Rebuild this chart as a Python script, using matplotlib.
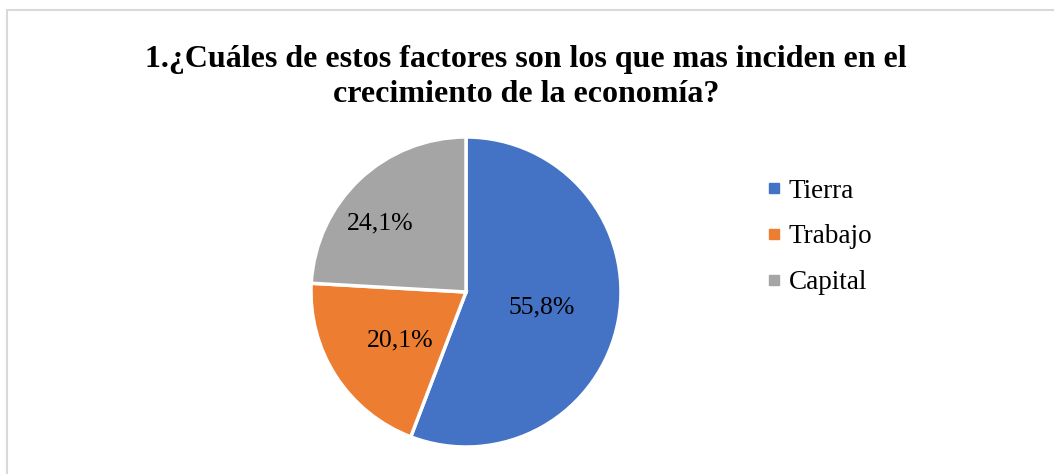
import matplotlib
matplotlib.use("Agg")
import matplotlib.pyplot as plt
from matplotlib.patches import Rectangle
from matplotlib.lines import Line2D

categories = ["Tierra", "Trabajo", "Capital"]
values = [55.8, 20.1, 24.1]
pct_labels = ["55,8%", "20,1%", "24,1%"]
colors = ["#4472C4", "#ED7D31", "#A5A5A5"]
title = "1.¿Cuáles de estos factores son los que mas inciden en el\ncrecimiento de la economía?"

plt.rcParams['font.family'] = ['Liberation Serif', 'DejaVu Serif']

W, H = 1054, 474
fig = plt.figure(figsize=(W / 100, H / 100), dpi=100)

# border (light gray frame)
fig.patches.append(Rectangle((6.5 / W, -0.5), 2.0, (H - 9.5) / H + 0.5,
                             transform=fig.transFigure, fill=False,
                             edgecolor="#D9D9D9", linewidth=1.5))

cx, cy, r = 466, 292, 155
ax = fig.add_axes([(cx - r) / W, (H - cy - r) / H, 2 * r / W, 2 * r / H])
wedges, _ = ax.pie(values, colors=colors, startangle=90, counterclock=False,
                   wedgeprops=dict(edgecolor="white", linewidth=2.5),
                   radius=1.0)
ax.set_xlim(-1, 1)
ax.set_ylim(-1, 1)
ax.set_aspect("equal")
ax.axis("off")

label_pos = [(0.49, -0.10), (-0.426, -0.31), (-0.555, 0.445)]
for (x, y), t in zip(label_pos, pct_labels):
    ax.text(x, y, t, ha="center", va="center", fontsize=18.5, color="black")

fig.text(0.5 * (147 + 905) / W, 1 - 77 / H, title, ha="center", va="center",
         fontsize=23, fontweight="bold", linespacing=1.28)

handles = [Line2D([0], [0], marker="s", linestyle="", markersize=7,
                  markerfacecolor=c, markeredgecolor=c) for c in colors]
leg = fig.legend(handles, categories, loc="upper left",
                 bbox_to_anchor=(756 / W, 1 - 168 / H), frameon=False,
                 fontsize=19.5, handlelength=0.5, handletextpad=0.3,
                 labelspacing=0.76, borderaxespad=0)

fig.savefig("out.png", dpi=100, facecolor="white")
